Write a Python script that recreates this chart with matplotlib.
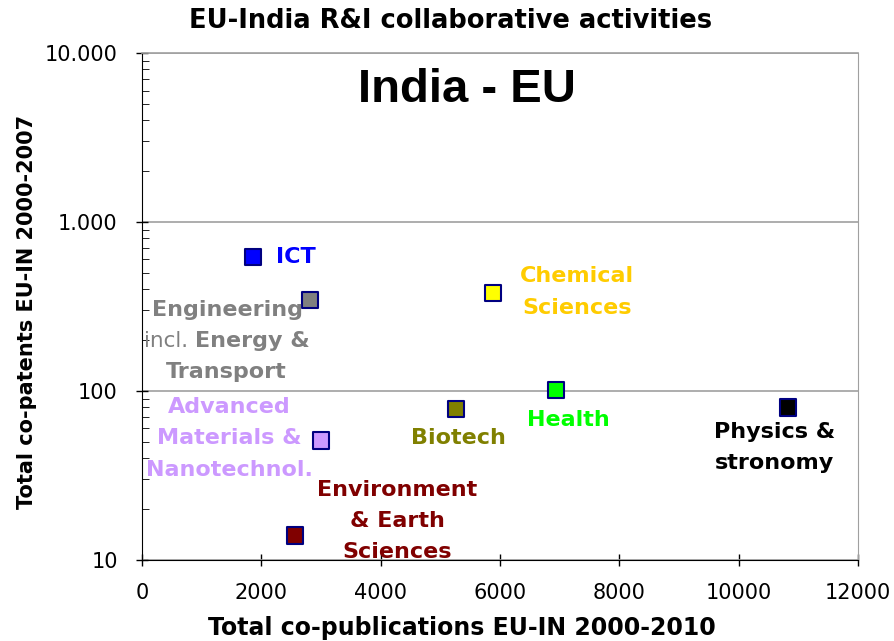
import matplotlib.pyplot as plt
from matplotlib.ticker import FixedLocator, FixedFormatter, LogLocator, NullFormatter

plt.rcParams['font.family'] = ['DejaVu Sans']

# data
fields = ["ICT", "Engineering", "Advanced Materials", "Environment",
          "Biotech", "Chemical", "Health", "Physics"]
co_publications = [1860, 2815, 3000, 2565, 5265, 5885, 6940, 10830]
co_patents = [620, 345, 51, 14, 78, 380, 101, 80]
colors = ["#0000ff", "#808080", "#cc99ff", "#800000",
          "#808000", "#ffff00", "#00ff00", "#000000"]
label_texts = ["ICT", None, "Advanced\nMaterials &\nNanotechnol.",
               "Environment\n& Earth\nSciences", "Biotech",
               "Chemical\nSciences", "Health", "Physics &\nstronomy"]
label_colors = ["#0000ff", "#808080", "#cc99ff", "#800000",
                "#808000", "#ffcc00", "#00ff00", "#000000"]
y_ticks = [10, 100, 1000, 10000]
y_tick_labels = ["10", "100", "1.000", "10.000"]
x_ticks = [0, 2000, 4000, 6000, 8000, 10000, 12000]

fig = plt.figure(figsize=(8.95, 6.41), dpi=100)
ax = fig.add_axes([0.1587, 0.1264, 0.8, 0.7909])

ax.scatter(co_publications, co_patents, marker="s", s=140, c=colors,
           edgecolors="#000080", linewidths=1.5, zorder=3)

ax.set_yscale("log")
ax.set_xlim(0, 12000)
ax.set_ylim(10, 10000)
ax.yaxis.set_major_locator(FixedLocator(y_ticks))
ax.yaxis.set_major_formatter(FixedFormatter(y_tick_labels))
ax.yaxis.set_minor_locator(LogLocator(base=10, subs=range(2, 10)))
ax.yaxis.set_minor_formatter(NullFormatter())
ax.set_xticks(x_ticks)
ax.set_xticklabels([str(v) for v in x_ticks])

ax.grid(axis="y", which="major", color="#a0a0a0", linewidth=1.2)
ax.tick_params(axis="both", which="major", direction="inout", length=9,
               labelsize=15, width=1)
ax.tick_params(axis="x", pad=12)
ax.tick_params(axis="y", which="major", pad=13)
ax.tick_params(axis="y", which="minor", direction="in", length=5)
ax.spines["top"].set_color("#a0a0a0")
ax.spines["right"].set_color("#a0a0a0")
ax.spines["top"].set_linewidth(1.2)

fig.text(0.516, 0.020, "Total co-publications EU-IN 2000-2010", fontsize=17,
         fontweight="bold", ha="center", va="center")
fig.text(0.030, 0.513, "Total co-patents EU-IN 2000-2007", fontsize=15,
         fontweight="bold", ha="center", va="center", rotation=90)
fig.text(0.503, 0.967, "EU-India R&I collaborative activities", fontsize=18.5,
         fontweight="bold", ha="center", va="center")
ax.text(0.454, 0.927, "India - EU", transform=ax.transAxes, fontsize=34,
        fontweight="bold", ha="center", va="center",
        family=["Liberation Sans"])

lbl = dict(fontsize=16, fontweight="bold", linespacing=1.7)
# label offsets from the marker, in pixels
label_off = [(23, 0, "left"), None, (-92, 2, "center"), (102, 14, "center"),
             (2, -29, "center"), (84, 1, "center"), (12, -30, "center"),
             (-14, -40, "center")]
for t, x, y, o, c in zip(label_texts, co_publications, co_patents,
                         label_off, label_colors):
    if t is None:
        continue
    ax.annotate(t, (x, y), xytext=(o[0], o[1]), textcoords="offset pixels",
                color=c, ha=o[2], va="center", multialignment="center", **lbl)

# Engineering label, with a plain "incl." part
eng = (co_publications[1], co_patents[1])
gray = label_colors[1]
ax.annotate("Engineering", eng, xytext=(-82, -10), textcoords="offset pixels",
            color=gray, ha="center", va="center", **lbl)
ax.annotate("incl.", eng, xytext=(-166, -41), textcoords="offset pixels",
            color=gray, ha="left", va="center", fontsize=15.5)
ax.annotate("Energy &", eng, xytext=(0, -41), textcoords="offset pixels",
            color=gray, ha="right", va="center", **lbl)
ax.annotate("Transport", eng, xytext=(-84, -72), textcoords="offset pixels",
            color=gray, ha="center", va="center", **lbl)

fig.savefig("out.png", dpi=100)
